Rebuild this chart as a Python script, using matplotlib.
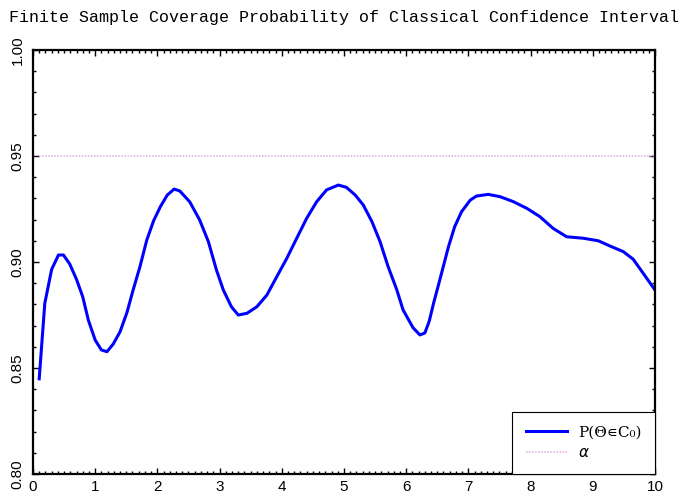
import matplotlib
matplotlib.use("Agg")
import matplotlib.pyplot as plt
from matplotlib.ticker import MultipleLocator

# Coverage probability of the classical interval as a function of theta
theta = [0.10, 0.19, 0.30, 0.41, 0.49, 0.59, 0.70, 0.80, 0.89, 1.00,
         1.10, 1.19, 1.29, 1.40, 1.51, 1.61, 1.72, 1.83, 1.94, 2.05,
         2.16, 2.27, 2.36, 2.52, 2.68, 2.82, 2.95, 3.06, 3.19, 3.30,
         3.44, 3.60, 3.76, 3.92, 4.08, 4.24, 4.40, 4.56, 4.72, 4.91,
         5.04, 5.18, 5.31, 5.45, 5.58, 5.71, 5.85, 5.95, 6.11, 6.22,
         6.30, 6.37, 6.44, 6.54, 6.68, 6.78, 6.89, 7.03, 7.13, 7.32,
         7.51, 7.72, 7.94, 8.15, 8.36, 8.58, 8.85, 9.09, 9.28, 9.49,
         9.65, 9.81, 10.0]
coverage = [0.8449, 0.8805, 0.8965, 0.9033, 0.9033, 0.8991, 0.8918, 0.8836, 0.8726, 0.8632,
            0.8585, 0.8577, 0.8613, 0.8671, 0.8761, 0.8868, 0.8978, 0.9104, 0.9195, 0.9262,
            0.9316, 0.9344, 0.9335, 0.9284, 0.9198, 0.9096, 0.8962, 0.8868, 0.8789, 0.8750,
            0.8758, 0.8789, 0.8844, 0.8931, 0.9017, 0.9112, 0.9206, 0.9284, 0.9340, 0.9363,
            0.9352, 0.9316, 0.9269, 0.9190, 0.9096, 0.8978, 0.8868, 0.8774, 0.8690, 0.8656,
            0.8665, 0.8720, 0.8805, 0.8915, 0.9072, 0.9167, 0.9237, 0.9292, 0.9311, 0.9319,
            0.9308, 0.9285, 0.9253, 0.9214, 0.9159, 0.9119, 0.9112, 0.9100, 0.9075, 0.9049,
            0.9013, 0.8947, 0.8868]
nominal_level = 0.95

x_ticks = [0, 1, 2, 3, 4, 5, 6, 7, 8, 9, 10]
y_ticks = [0.80, 0.85, 0.90, 0.95, 1.00]

fig = plt.figure(figsize=(6.8, 4.99), dpi=100)
ax = fig.add_axes([0.0485, 0.0501, 0.9147, 0.8497])

ax.plot(theta, coverage, color="#0000ff", lw=2.2, label="P(Θ\u220aC\u2080)")
ax.plot([theta[0], theta[-1]], [nominal_level, nominal_level], color="#e0a8e0",
        lw=1.1, ls=(0, (1, 1)), label=r"$\alpha$")

ax.set_xlim(0, 10)
ax.set_ylim(0.8, 1.0)
ax.set_xticks(x_ticks)
ax.set_xticklabels([str(t) for t in x_ticks], family="Liberation Sans", fontsize=11)
ax.set_yticks(y_ticks)
ax.set_yticklabels([f"{t:.2f}" for t in y_ticks], family="Liberation Sans", fontsize=11,
                   rotation=90, va="center")
ax.xaxis.set_minor_locator(MultipleLocator(0.1))
ax.yaxis.set_minor_locator(MultipleLocator(0.01))
ax.tick_params(which="both", direction="in", top=True, right=True, width=1.0)
ax.tick_params(which="major", length=4.5, pad=4)
ax.tick_params(which="minor", length=2.5)
ax.tick_params(axis="y", pad=6)

for sp in ax.spines.values():
    sp.set_linewidth(1.6)

ax.set_title("Finite Sample Coverage Probability of Classical Confidence Interval",
             family="Liberation Mono", fontsize=12, pad=20)

leg = ax.legend(loc="lower right", borderaxespad=0, fancybox=False, framealpha=1,
                edgecolor="black", handlelength=2.7, borderpad=0.9,
                handletextpad=0.7, labelspacing=0.45,
                prop={"family": ["DejaVu Serif", "DejaVu Sans"], "size": 11})
leg.get_frame().set_linewidth(0.8)

fig.savefig("out.png", dpi=100)
